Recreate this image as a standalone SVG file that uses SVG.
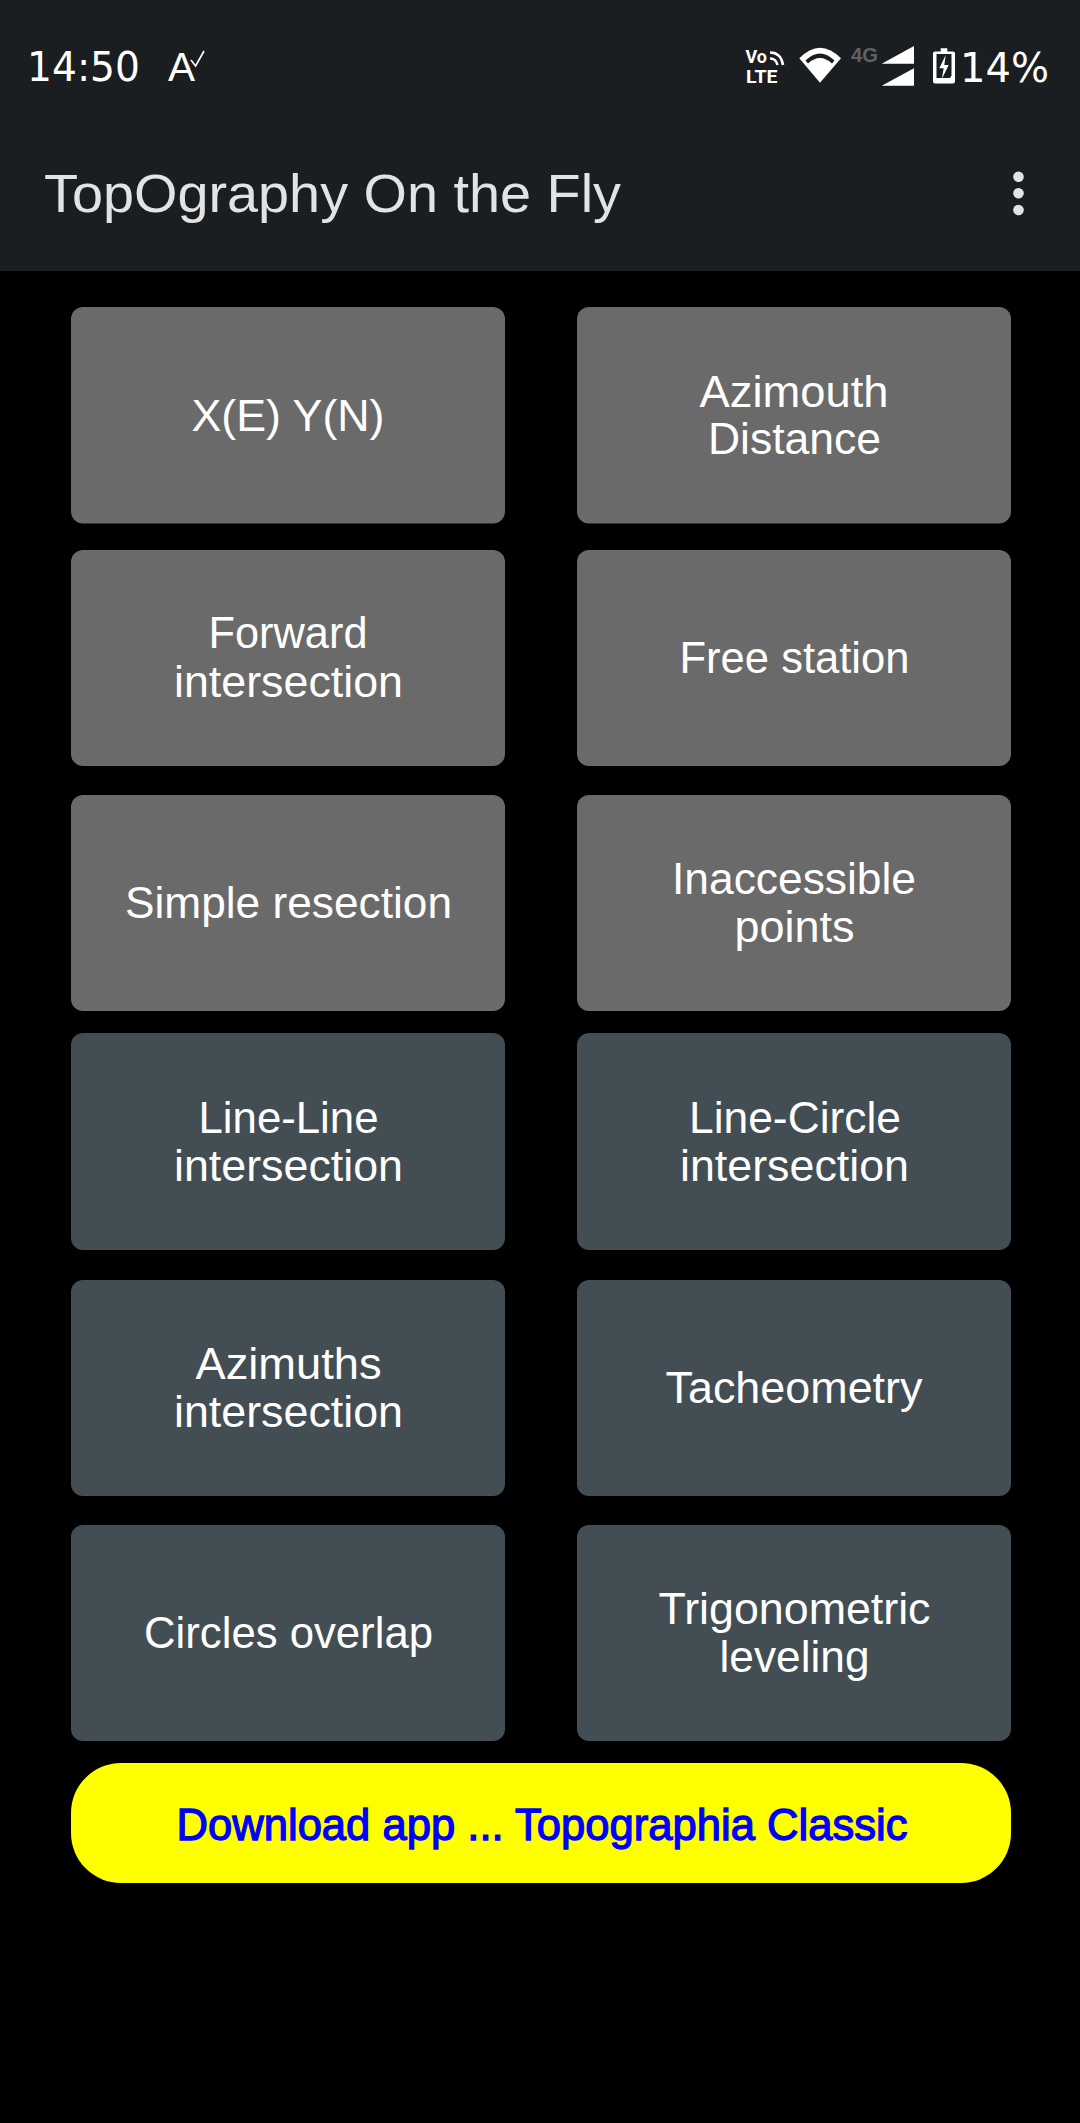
<svg xmlns="http://www.w3.org/2000/svg" width="1080" height="2123" viewBox="0 0 1080 2123">
<style>
.b{fill:#6a6a6a}
.d{fill:#434e54}
.t{font-family:"Liberation Sans",Arial,sans-serif;font-size:43.500px;fill:#fff;text-anchor:middle}
.s{font-family:"DejaVu Sans",sans-serif;font-size:41px;fill:#fff}
.v{font-family:Roboto,"Liberation Sans",sans-serif;font-weight:700;fill:#fff}
</style>
<rect width="1080" height="2123" fill="#000"/>
<g id="appbar">
<rect width="1080" height="271" fill="#1a1e21"/>
<text x="44" y="212" font-family="'Liberation Sans',Arial,sans-serif" font-size="54" fill="#e2e3e3" textLength="577" lengthAdjust="spacingAndGlyphs">TopOgraphy On the Fly</text>
<circle cx="1018.5" cy="176.7" r="5.3" fill="#e2e3e3"/>
<circle cx="1018.5" cy="193.3" r="5.3" fill="#e2e3e3"/>
<circle cx="1018.5" cy="210" r="5.3" fill="#e2e3e3"/>
</g>
<g id="statusbar">
<text class="s" x="27" y="81" textLength="113" lengthAdjust="spacingAndGlyphs">14:50</text>
<text x="168" y="81" font-family="'Liberation Sans',Arial,sans-serif" font-size="41" fill="#fff" textLength="27" lengthAdjust="spacingAndGlyphs">A</text>
<path d="M191 60l4.600 6 8.400-15" fill="none" stroke="#fff" stroke-width="1.600"/>
<text class="v" x="745.500" y="63.300" font-size="18" textLength="21.500" lengthAdjust="spacingAndGlyphs">Vo</text>
<text class="v" x="746" y="82.700" font-size="18.500" textLength="31.500" lengthAdjust="spacingAndGlyphs">LTE</text>
<path d="M770 52.500Q781 52.500 783 65M770 58.500Q776 58.500 777.500 65" fill="none" stroke="#fff" stroke-width="2.600"/>
<path d="M799.300 58.300Q820 37 841 58.300L820 82.700Z" fill="#fff"/>
<path d="M805.500 60.500Q820 46.500 834.500 60.500L832 63.500Q820 52.500 808 63.500Z" fill="#1a1e21"/>
<text x="851" y="62" font-family="'Liberation Sans',Arial,sans-serif" font-weight="700" font-size="20.500" fill="#5f6163" textLength="27" lengthAdjust="spacingAndGlyphs">4G</text>
<path d="M881.700 63.700L914 46V63.700ZM881.700 85.800L914 68.300V85.800Z" fill="#fff"/>
<path d="M935 51.500h5.700v-3.200h6.600v3.200h5.700q2 0 2 2v28q0 2-2 2h-18q-2 0-2-2v-28q0-2 2-2Z" fill="#fff"/>
<path d="M936.500 54h15v21.500l-1.500 2.500h-13.500Z" fill="#1a1e21"/>
<path d="M945.700 55L939.300 68.300H943.700L941.700 79.300L948.700 65H944.300Z" fill="#fff"/>
<text class="s" x="960" y="81.500" textLength="89" lengthAdjust="spacingAndGlyphs">14%</text>
</g>
<g id="n1"><rect class="b" x="71" y="307" width="434" height="216.500" rx="12"/><text class="t" x="288" y="431" textLength="193" lengthAdjust="spacingAndGlyphs">X(E) Y(N)</text></g>
<g id="n2"><rect class="b" x="577" y="307" width="434" height="216.500" rx="12"/><text class="t" x="794" y="407" textLength="189" lengthAdjust="spacingAndGlyphs">Azimouth</text><text class="t" x="794.500" y="454" textLength="173" lengthAdjust="spacingAndGlyphs">Distance</text></g>
<g id="n3"><rect class="b" x="71" y="550" width="434" height="216" rx="12"/><text class="t" x="288" y="648" textLength="159" lengthAdjust="spacingAndGlyphs">Forward</text><text class="t" x="288.500" y="697" textLength="229" lengthAdjust="spacingAndGlyphs">intersection</text></g>
<g id="n4"><rect class="b" x="577" y="550" width="434" height="216" rx="12"/><text class="t" x="794.500" y="673" textLength="230" lengthAdjust="spacingAndGlyphs">Free station</text></g>
<g id="n5"><rect class="b" x="71" y="795" width="434" height="216" rx="12"/><text class="t" x="288.500" y="918" textLength="327" lengthAdjust="spacingAndGlyphs">Simple resection</text></g>
<g id="n6"><rect class="b" x="577" y="795" width="434" height="216" rx="12"/><text class="t" x="794" y="894" textLength="244" lengthAdjust="spacingAndGlyphs">Inaccessible</text><text class="t" x="794.500" y="942" textLength="120" lengthAdjust="spacingAndGlyphs">points</text></g>
<g id="n7"><rect class="d" x="71" y="1033" width="434" height="217" rx="12"/><text class="t" x="288.500" y="1133" textLength="180" lengthAdjust="spacingAndGlyphs">Line-Line</text><text class="t" x="288.500" y="1181" textLength="229" lengthAdjust="spacingAndGlyphs">intersection</text></g>
<g id="n8"><rect class="d" x="577" y="1033" width="434" height="217" rx="12"/><text class="t" x="795" y="1133" textLength="212" lengthAdjust="spacingAndGlyphs">Line-Circle</text><text class="t" x="794.500" y="1181" textLength="229" lengthAdjust="spacingAndGlyphs">intersection</text></g>
<g id="n9"><rect class="d" x="71" y="1280" width="434" height="216" rx="12"/><text class="t" x="288.500" y="1379" textLength="186" lengthAdjust="spacingAndGlyphs">Azimuths</text><text class="t" x="288.500" y="1427" textLength="229" lengthAdjust="spacingAndGlyphs">intersection</text></g>
<g id="n10"><rect class="d" x="577" y="1280" width="434" height="216" rx="12"/><text class="t" x="794" y="1403" textLength="257" lengthAdjust="spacingAndGlyphs">Tacheometry</text></g>
<g id="n11"><rect class="d" x="71" y="1525" width="434" height="216" rx="12"/><text class="t" x="288.500" y="1648" textLength="289" lengthAdjust="spacingAndGlyphs">Circles overlap</text></g>
<g id="n12"><rect class="d" x="577" y="1525" width="434" height="216" rx="12"/><text class="t" x="794.500" y="1624" textLength="272" lengthAdjust="spacingAndGlyphs">Trigonometric</text><text class="t" x="794.500" y="1672" textLength="150" lengthAdjust="spacingAndGlyphs">leveling</text></g>
<g id="download"><rect x="71" y="1763" width="940" height="120" rx="50" fill="#ff0"/><text class="t" x="542" y="1840" style="fill:#00f" stroke="#00f" stroke-width="1.300" textLength="731" lengthAdjust="spacingAndGlyphs">Download app ... Topographia Classic</text></g>
</svg>
